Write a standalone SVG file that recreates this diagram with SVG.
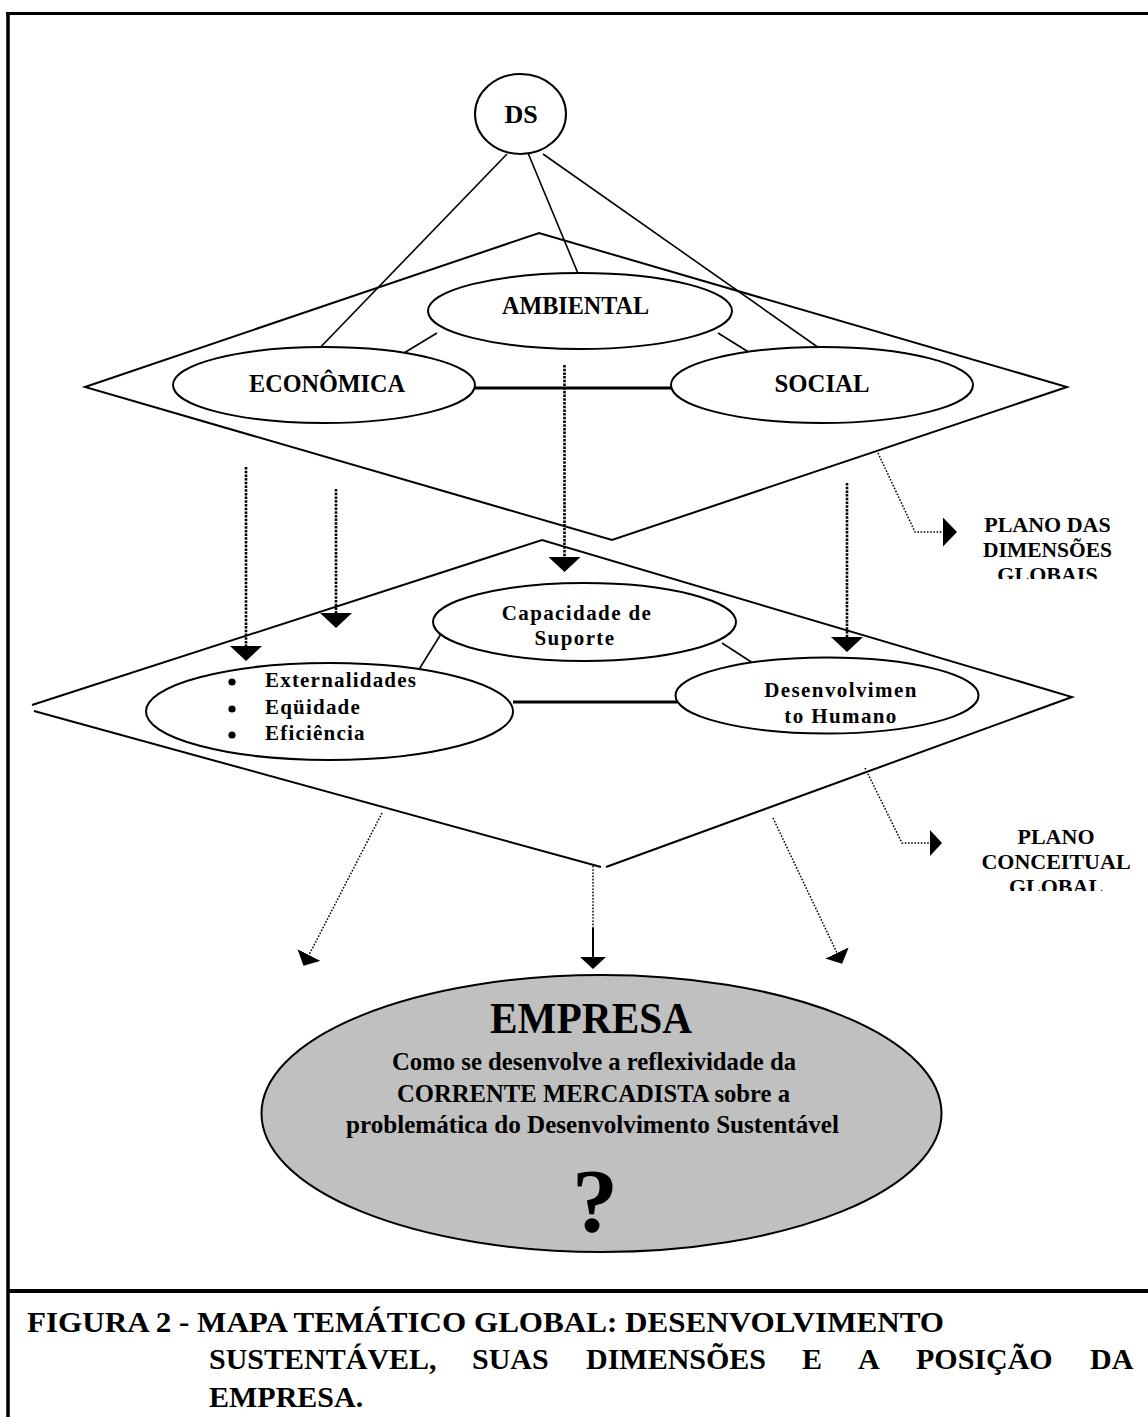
<svg xmlns="http://www.w3.org/2000/svg" width="1148" height="1417" viewBox="0 0 1148 1417">
<style>
  .t{font-family:"Liberation Serif","Times New Roman",serif;font-weight:bold;fill:#000}
  .frame{stroke:#000;fill:none}
  .plane{fill:none;stroke:#000;stroke-width:2;stroke-linejoin:miter}
  .oval{fill:#fff;stroke:#000;stroke-width:2}
  .link{stroke:#000;stroke-width:1.6;fill:none}
  .bar{stroke:#000;stroke-width:3.2;fill:none}
  .flow{stroke:#000;stroke-width:2.6;stroke-dasharray:2.5 1.2;fill:none}
  .dot{stroke:#000;stroke-width:1.5;stroke-dasharray:1.6 1.6;fill:none}
  .solid{stroke:#000;stroke-width:2;fill:none}
</style>
<defs>
  <marker id="headL" viewBox="0 0 15 32" refX="0" refY="16" markerWidth="15" markerHeight="32" markerUnits="userSpaceOnUse" orient="auto">
    <path d="M0,0 L15,16 L0,32 z" fill="#000"/>
  </marker>
  <marker id="headM" viewBox="0 0 14 29" refX="0" refY="14.5" markerWidth="14" markerHeight="29" markerUnits="userSpaceOnUse" orient="auto">
    <path d="M0,0 L14,14.5 L0,29 z" fill="#000"/>
  </marker>
  <marker id="headS" viewBox="0 0 12 26" refX="0" refY="13" markerWidth="12" markerHeight="26" markerUnits="userSpaceOnUse" orient="auto">
    <path d="M0,0 L12,13 L0,26 z" fill="#000"/>
  </marker>
  <clipPath id="clipLab1"><rect x="960" y="500" width="188" height="79"/></clipPath>
  <clipPath id="clipLab2"><rect x="960" y="815" width="188" height="76"/></clipPath>
</defs>

<g id="frame">
  <line class="frame" x1="6" y1="13.5" x2="1148" y2="13.5" stroke-width="3"/>
  <line class="frame" x1="8" y1="12" x2="8" y2="1417" stroke-width="3.5"/>
  <line class="frame" x1="8" y1="1291" x2="1148" y2="1291" stroke-width="4"/>
</g>

<g id="plane-dimensoes">
  <polygon class="plane" points="85,387 539,233 1067,387 612,540"/>
</g>
<g id="plane-conceitual">
  <polyline class="plane" points="32,705 542,540 1072,697 606,867"/>
  <polyline class="plane" points="34,711 601,867"/>
</g>

<g id="connectors">
  <line class="link" x1="507" y1="154" x2="312" y2="356"/>
  <line class="link" x1="528" y1="153" x2="582" y2="283"/>
  <line class="link" x1="543" y1="154" x2="829" y2="355"/>
  <line class="link" x1="399" y1="356" x2="437" y2="333"/>
  <line class="link" x1="718" y1="333" x2="755" y2="356"/>
  <line class="bar" x1="475" y1="388" x2="671" y2="388"/>
  <line class="link" x1="441" y1="634" x2="418" y2="671"/>
  <line class="link" x1="722" y1="643" x2="759" y2="667"/>
  <line class="bar" x1="513" y1="702" x2="677" y2="702"/>
  <line class="flow" x1="246" y1="467" x2="246" y2="646" marker-end="url(#headL)"/>
  <line class="flow" x1="336" y1="489" x2="336" y2="613" marker-end="url(#headL)"/>
  <line class="flow" x1="564.5" y1="365" x2="564.5" y2="557" marker-end="url(#headL)"/>
  <line class="flow" x1="847" y1="483" x2="847" y2="637" marker-end="url(#headL)"/>
  <polyline class="dot" points="878,453 915,532 943,532" marker-end="url(#headM)"/>
  <polyline class="dot" points="865,768 902,843 930,843" marker-end="url(#headS)"/>
  <line class="dot" x1="382" y1="813" x2="309" y2="955" marker-end="url(#headS)"/>
  <line class="dot" x1="593" y1="866" x2="593" y2="928"/>
  <line class="solid" x1="593" y1="928" x2="593" y2="957" marker-end="url(#headS)"/>
  <line class="dot" x1="773" y1="818" x2="837" y2="953" marker-end="url(#headS)"/>
</g>

<g id="node-ds">
  <ellipse class="oval" cx="520.5" cy="114" rx="45.5" ry="40"/>
  <text class="t" x="521" y="123" font-size="26" text-anchor="middle">DS</text>
</g>
<g id="node-ambiental">
  <ellipse class="oval" cx="580" cy="311" rx="152" ry="38"/>
  <text class="t" x="575.5" y="314" font-size="25" text-anchor="middle" textLength="147" lengthAdjust="spacingAndGlyphs">AMBIENTAL</text>
</g>
<g id="node-economica">
  <ellipse class="oval" cx="324" cy="385" rx="151" ry="38"/>
  <text class="t" x="327" y="392" font-size="25" text-anchor="middle" textLength="156" lengthAdjust="spacingAndGlyphs">ECONÔMICA</text>
</g>
<g id="node-social">
  <ellipse class="oval" cx="822" cy="385" rx="151" ry="38"/>
  <text class="t" x="822" y="392" font-size="25" text-anchor="middle" textLength="95" lengthAdjust="spacingAndGlyphs">SOCIAL</text>
</g>
<g id="node-capacidade">
  <ellipse class="oval" cx="584.5" cy="622" rx="151.5" ry="39"/>
  <text class="t" x="577" y="620" font-size="21" letter-spacing="1.4" text-anchor="middle">Capacidade de</text>
  <text class="t" x="575" y="645" font-size="21" letter-spacing="1.4" text-anchor="middle">Suporte</text>
</g>
<g id="node-economica-conceitos">
  <ellipse class="oval" cx="329.5" cy="711.5" rx="183.5" ry="48.5"/>
  <circle cx="232" cy="682" r="3.6" fill="#000"/>
  <circle cx="232" cy="709" r="3.6" fill="#000"/>
  <circle cx="232" cy="735" r="3.6" fill="#000"/>
  <text class="t" x="265" y="687" font-size="21" letter-spacing="1.2">Externalidades</text>
  <text class="t" x="265" y="714" font-size="21" letter-spacing="1.2">Eqüidade</text>
  <text class="t" x="265" y="740" font-size="21" letter-spacing="1.2">Eficiência</text>
</g>
<g id="node-desenvolvimento-humano">
  <ellipse class="oval" cx="827" cy="695.5" rx="151.5" ry="38"/>
  <text class="t" x="841" y="697" font-size="21" letter-spacing="1.4" text-anchor="middle">Desenvolvimen</text>
  <text class="t" x="841" y="723" font-size="21" letter-spacing="1.4" text-anchor="middle">to Humano</text>
</g>

<g id="label-plano-dimensoes" clip-path="url(#clipLab1)">
  <text class="t" x="1047.5" y="532" font-size="22" text-anchor="middle">PLANO DAS</text>
  <text class="t" x="1047.5" y="557" font-size="22" text-anchor="middle" textLength="129" lengthAdjust="spacingAndGlyphs">DIMENSÕES</text>
  <text class="t" x="1047.5" y="582" font-size="22" text-anchor="middle">GLOBAIS</text>
</g>
<g id="label-plano-conceitual" clip-path="url(#clipLab2)">
  <text class="t" x="1056" y="844" font-size="22" text-anchor="middle">PLANO</text>
  <text class="t" x="1056" y="869" font-size="22" text-anchor="middle">CONCEITUAL</text>
  <text class="t" x="1056" y="894" font-size="22" text-anchor="middle">GLOBAL</text>
</g>

<g id="node-empresa">
  <ellipse cx="601.5" cy="1113.5" rx="340" ry="138.5" fill="#c0c0c0" stroke="#000" stroke-width="2"/>
  <text class="t" x="591" y="1033" font-size="45" text-anchor="middle" textLength="202" lengthAdjust="spacingAndGlyphs">EMPRESA</text>
  <text class="t" x="594" y="1070" font-size="24.5" text-anchor="middle" textLength="404" lengthAdjust="spacingAndGlyphs">Como se desenvolve a reflexividade da</text>
  <text class="t" x="593.5" y="1102" font-size="24.5" text-anchor="middle" textLength="393" lengthAdjust="spacingAndGlyphs">CORRENTE MERCADISTA sobre a</text>
  <text class="t" x="592.5" y="1133" font-size="24.5" text-anchor="middle" textLength="493" lengthAdjust="spacingAndGlyphs">problemática do Desenvolvimento Sustentável</text>
  <text class="t" x="595" y="1232" font-size="92" text-anchor="middle">?</text>
</g>

<g id="caption">
  <text class="t" x="27" y="1332" font-size="30" textLength="917" lengthAdjust="spacingAndGlyphs">FIGURA 2 - MAPA TEMÁTICO GLOBAL: DESENVOLVIMENTO</text>
  <text class="t" y="1369" font-size="30"><tspan x="209">SUSTENTÁVEL,</tspan><tspan x="472">SUAS</tspan><tspan x="586">DIMENSÕES</tspan><tspan x="802">E</tspan><tspan x="858">A</tspan><tspan x="916">POSIÇÃO</tspan><tspan x="1090">DA</tspan></text>
  <text class="t" x="209" y="1407" font-size="30">EMPRESA.</text>
</g>
</svg>
